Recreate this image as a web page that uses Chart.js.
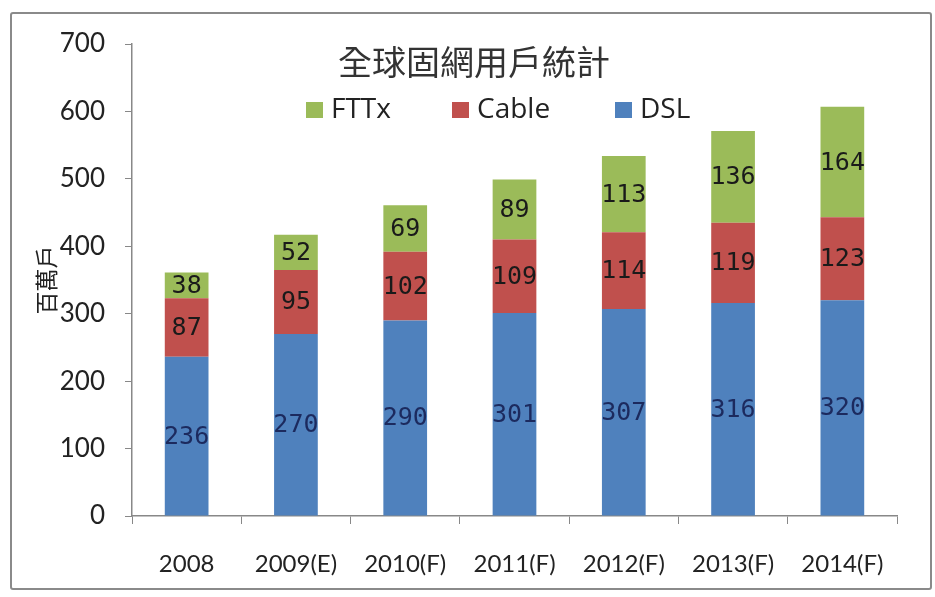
<!DOCTYPE html>
<html>
<head>
<meta charset="utf-8">
<script src="https://cdn.jsdelivr.net/npm/chart.js@4.4.1/dist/chart.umd.min.js"></script>
<style>
  body { margin: 0; background: #fff; }
  #wrap { position: relative; width: 935px; height: 597px; }
  #frame { position: absolute; left: 10px; top: 12px; width: 918px; height: 574px; border: 2px solid #8a8a8a; border-radius: 3px; }
  canvas { position: absolute; left: 0; top: 0; }
</style>
</head>
<body>
<div id="wrap">
  <div id="frame"></div>
  <canvas id="chart" width="935" height="597"></canvas>
</div>
<script>
// 全球固網用戶 (百萬戶)
const years = ['2008', '2009(E)', '2010(F)', '2011(F)', '2012(F)', '2013(F)', '2014(F)'];
const dsl = [236, 270, 290, 301, 307, 316, 320];
const cable = [87, 95, 102, 109, 114, 119, 123];
const fttx = [38, 52, 69, 89, 113, 136, 164];
const yTicks = [0, 100, 200, 300, 400, 500, 600, 700];
const chartTitle = '全球固網用戶統計';

const baseFont = 'Lato, "Open Sans", sans-serif';

// writes each segment's value in the middle of its bar piece
const valueLabels = {
    id: 'valueLabels',
    afterDatasetsDraw(chart) {
        const ctx = chart.ctx;
        ctx.save();
        ctx.font = '25px "DejaVu Sans Mono", monospace';
        ctx.textAlign = 'center';
        ctx.textBaseline = 'middle';
        chart.data.datasets.forEach((ds, i) => {
            const meta = chart.getDatasetMeta(i);
            meta.data.forEach((bar, j) => {
                ctx.fillStyle = ds.labelColor;
                ctx.fillText(ds.data[j], bar.x, (bar.y + bar.base) / 2 + 1);
            });
        });
        ctx.restore();
    }
};

// title and legend sit inside the plot area, like the excel original
const overlayLegend = {
    id: 'overlayLegend',
    afterDraw(chart) {
        const ctx = chart.ctx;
        ctx.save();
        ctx.fillStyle = '#333';
        ctx.textAlign = 'center';
        ctx.textBaseline = 'middle';
        ctx.font = '34px "Noto Sans CJK TC", sans-serif';
        ctx.fillText(chartTitle, 474, 62);

        const items = chart.data.datasets.slice().reverse();
        const boxX = [306, 452, 615];
        ctx.font = '28px "Open Sans", sans-serif';
        ctx.textAlign = 'left';
        items.forEach((ds, k) => {
            ctx.fillStyle = ds.backgroundColor;
            ctx.fillRect(boxX[k], 102, 17, 16);
            ctx.fillStyle = '#222';
            ctx.fillText(ds.label, boxX[k] + 25, 110);
        });
        ctx.restore();
    }
};

new Chart(document.getElementById('chart'), {
    type: 'bar',
    data: {
        labels: years,
        datasets: [
            { label: 'DSL', data: dsl, backgroundColor: '#4f81bd', labelColor: '#1c2a5e' },
            { label: 'Cable', data: cable, backgroundColor: '#c0504d', labelColor: '#1a1a1a' },
            { label: 'FTTx', data: fttx, backgroundColor: '#9bbb59', labelColor: '#1a1a1a' }
        ]
    },
    options: {
        responsive: false,
        animation: false,
        barPercentage: 0.4,
        categoryPercentage: 1,
        layout: { padding: { left: 32, right: 38, top: 44, bottom: 11 } },
        plugins: {
            legend: { display: false },
            tooltip: { enabled: false }
        },
        scales: {
            x: {
                stacked: true,
                grid: { drawOnChartArea: false, tickLength: 8, color: '#888' },
                border: { color: '#888', width: 1.5 },
                ticks: { color: '#222', padding: 26, font: { family: baseFont, size: 24 } },
                afterFit(s) { s.height = 70; }
            },
            y: {
                stacked: true,
                min: 0,
                max: 700,
                afterBuildTicks(s) { s.ticks = yTicks.map(v => ({ value: v })); },
                grid: { drawOnChartArea: false, tickLength: 7, color: '#888' },
                border: { color: '#888', width: 1.5 },
                ticks: { color: '#222', padding: 20, font: { family: baseFont, size: 26 } },
                title: {
                    display: true,
                    text: '百萬戶',
                    color: '#222',
                    padding: 0,
                    font: { family: '"Noto Sans CJK TC", sans-serif', size: 23 }
                },
                afterFit(s) { s.width = 100; }
            }
        }
    },
    plugins: [valueLabels, overlayLegend]
});
</script>
</body>
</html>
